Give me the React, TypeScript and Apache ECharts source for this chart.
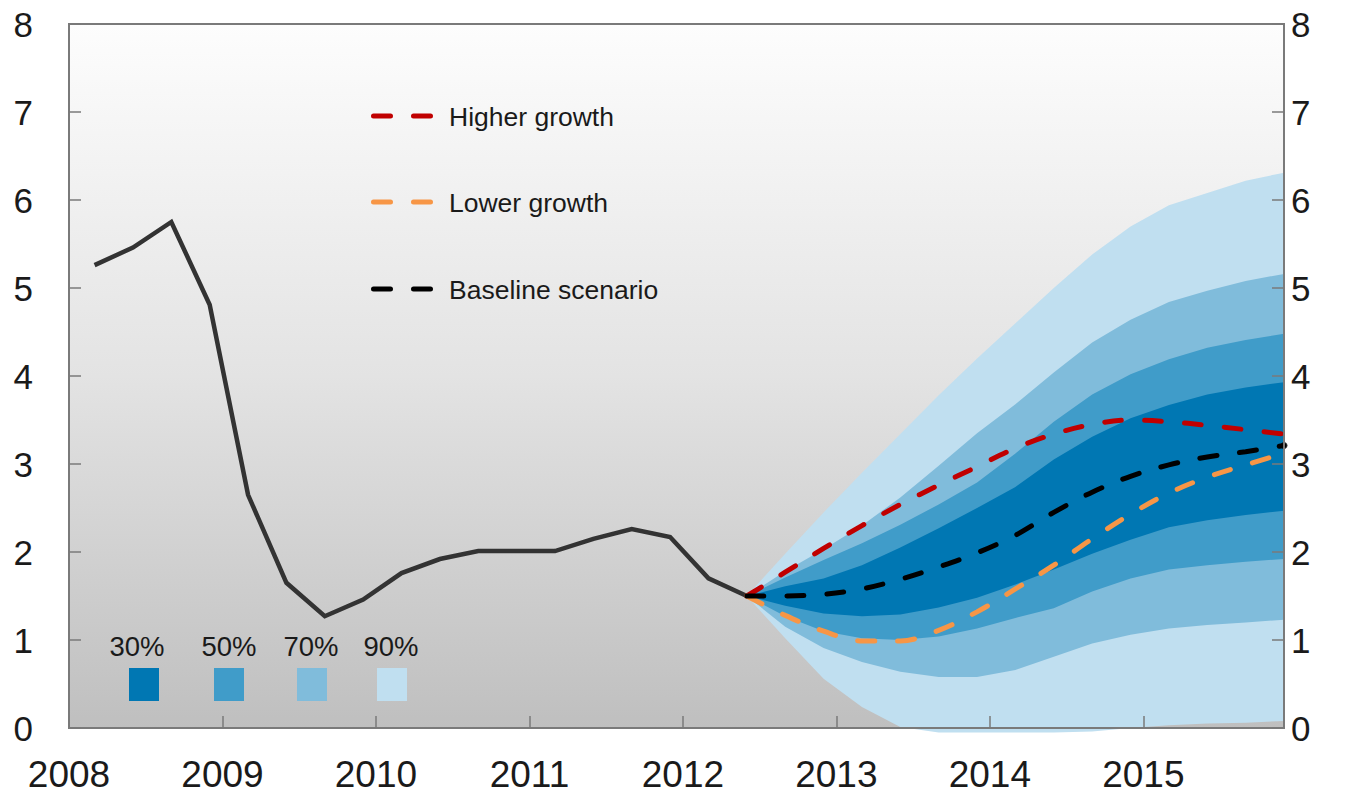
import React, { useEffect, useRef } from 'react';
import * as echarts from 'echarts';

// ---------- data ----------
const historyQuarters = [
  '2008Q1', '2008Q2', '2008Q3', '2008Q4',
  '2009Q1', '2009Q2', '2009Q3', '2009Q4',
  '2010Q1', '2010Q2', '2010Q3', '2010Q4',
  '2011Q1', '2011Q2', '2011Q3', '2011Q4',
  '2012Q1', '2012Q2',
];
const historyValues = [5.26, 5.46, 5.75, 4.81, 2.65, 1.65, 1.27, 1.46, 1.76, 1.92, 2.01, 2.01, 2.01, 2.15, 2.26, 2.17, 1.7, 1.5];

const forecastQuarters = [
  '2012Q2', '2012Q3', '2012Q4',
  '2013Q1', '2013Q2', '2013Q3', '2013Q4',
  '2014Q1', '2014Q2', '2014Q3', '2014Q4',
  '2015Q1', '2015Q2', '2015Q3', '2015Q4',
];
const higherGrowth = [1.5, 1.77, 2.04, 2.3, 2.54, 2.76, 2.97, 3.18, 3.34, 3.45, 3.5, 3.48, 3.44, 3.39, 3.34];
const lowerGrowth = [1.5, 1.28, 1.1, 0.99, 0.99, 1.11, 1.32, 1.58, 1.85, 2.15, 2.43, 2.67, 2.85, 2.99, 3.12];
const baseline = [1.5, 1.5, 1.52, 1.58, 1.69, 1.83, 1.99, 2.19, 2.45, 2.68, 2.86, 2.99, 3.08, 3.14, 3.21];

const upper90 = [1.5, 1.98, 2.45, 2.9, 3.34, 3.78, 4.2, 4.6, 5.0, 5.38, 5.7, 5.94, 6.08, 6.22, 6.31];
const upper70 = [1.5, 1.78, 2.03, 2.3, 2.62, 2.98, 3.35, 3.68, 4.04, 4.38, 4.64, 4.84, 4.97, 5.08, 5.16];
const upper50 = [1.5, 1.71, 1.91, 2.1, 2.31, 2.54, 2.79, 3.12, 3.48, 3.79, 4.02, 4.19, 4.32, 4.41, 4.48];
const upper30 = [1.5, 1.61, 1.7, 1.85, 2.05, 2.27, 2.5, 2.74, 3.05, 3.31, 3.52, 3.67, 3.79, 3.87, 3.93];
const lower30 = [1.5, 1.39, 1.3, 1.27, 1.29, 1.37, 1.48, 1.63, 1.8, 1.98, 2.14, 2.28, 2.36, 2.42, 2.47];
const lower50 = [1.5, 1.27, 1.1, 1.02, 1.0, 1.04, 1.13, 1.25, 1.36, 1.55, 1.7, 1.8, 1.85, 1.89, 1.92];
const lower70 = [1.5, 1.15, 0.91, 0.75, 0.64, 0.58, 0.58, 0.66, 0.81, 0.96, 1.06, 1.13, 1.17, 1.2, 1.23];
const lower90 = [1.5, 1.02, 0.56, 0.24, 0.01, -0.05, -0.05, -0.05, -0.05, -0.04, 0.0, 0.03, 0.05, 0.06, 0.08];

const xTickYears = [2008, 2009, 2010, 2011, 2012, 2013, 2014, 2015];
const legendLines = ['Higher growth', 'Lower growth', 'Baseline scenario'];
const bandLabels = ['30%', '50%', '70%', '90%'];

// ---------- styles ----------
const FONT = '"Liberation Sans", Arial, Helvetica, sans-serif';
const TEXT = '#1a1a1a';
const FRAME = '#7a7a7a';
const C_DARK = '#0077b3';
const C_MID = '#409cc9';
const C_LIGHT = '#80bcdb';
const C_LIGHTEST = '#c0dff0';
const C_RED = '#c00000';
const C_ORANGE = '#f79646';
const C_BLACK = '#000000';
const C_HIST = '#333333';

function qToX(q: string): number {
  const [y, qq] = q.split('Q');
  return Number(y) + (3 * Number(qq) - 1) / 12;
}

function pairs(quarters: string[], values: number[]) {
  return values.map((v, i) => [qToX(quarters[i]), v]);
}

export default function App() {
  const ref = useRef<HTMLDivElement>(null);

  useEffect(() => {
    if (!ref.current) return;
    const chart = echarts.init(ref.current, null, { renderer: 'svg' });

    const forecastXs = forecastQuarters.map(qToX);
    // nested bands, widest first
    const fanBands = [
      { lo: lower90, hi: upper90, color: C_LIGHTEST },
      { lo: lower70, hi: upper70, color: C_LIGHT },
      { lo: lower50, hi: upper50, color: C_MID },
      { lo: lower30, hi: upper30, color: C_DARK },
    ];

    const dashLine = (color: string) => ({
      color,
      width: 5,
      type: [17, 23],
      cap: 'round',
    });

    const xMin = xTickYears[0];
    const xMax = forecastXs[forecastXs.length - 1];

    const yAxisBase = {
      type: 'value',
      min: 0,
      max: 8,
      interval: 1,
      z: 5,
      splitLine: { show: false },
      axisLine: { show: true, lineStyle: { color: FRAME, width: 2 } },
      axisTick: { show: true, inside: true, length: 12, lineStyle: { color: FRAME, width: 1.5 } },
    };

    const legendY = [116, 202, 289];
    const legendColors = [C_RED, C_ORANGE, C_BLACK];
    const graphics: any[] = [];
    legendLines.forEach((t, i) => {
      graphics.push({
        type: 'line',
        z: 20,
        shape: { x1: 373.5, y1: legendY[i], x2: 430.5, y2: legendY[i] },
        style: { stroke: legendColors[i], lineWidth: 5, lineDash: [17, 23], lineCap: 'round' },
      });
      graphics.push({
        type: 'text',
        z: 20,
        x: 449,
        y: legendY[i] + 1,
        style: {
          text: t,
          fill: TEXT,
          fontSize: 26.5,
          fontFamily: FONT,
          textAlign: 'left',
          textVerticalAlign: 'middle',
        },
      });
    });
    const squareX = [129, 214, 297, 377];
    const labelX = [137, 229, 311, 391];
    const squareColors = [C_DARK, C_MID, C_LIGHT, C_LIGHTEST];
    bandLabels.forEach((t, i) => {
      graphics.push({
        type: 'rect',
        z: 20,
        shape: { x: squareX[i], y: 668, width: 30, height: 33 },
        style: { fill: squareColors[i] },
      });
      graphics.push({
        type: 'text',
        z: 20,
        x: labelX[i],
        y: 646,
        style: {
          text: t,
          fill: TEXT,
          fontSize: 27.5,
          fontFamily: FONT,
          textAlign: 'center',
          textVerticalAlign: 'middle',
        },
      });
    });

    chart.setOption({
      animation: false,
      backgroundColor: '#ffffff',
      textStyle: { fontFamily: FONT },
      grid: {
        left: 69,
        right: 66,
        top: 24,
        bottom: 69,
        show: true,
        borderColor: FRAME,
        borderWidth: 2,
        backgroundColor: {
          type: 'linear',
          x: 0,
          y: 0,
          x2: 0,
          y2: 1,
          colorStops: [
            { offset: 0, color: '#fdfdfd' },
            { offset: 0.5, color: '#e3e3e3' },
            { offset: 1, color: '#bfbfbf' },
          ],
        },
      },
      xAxis: {
        type: 'value',
        min: xMin,
        max: xMax,
        interval: 1,
        z: 5,
        splitLine: { show: false },
        axisLine: { show: true, onZero: false, lineStyle: { color: FRAME, width: 2 } },
        axisTick: { show: true, inside: true, length: 12, lineStyle: { color: FRAME, width: 1.5 } },
        axisLabel: {
          color: TEXT,
          fontSize: 37,
          fontFamily: FONT,
          margin: 28,
          showMaxLabel: false,
          formatter: (v: number) =>
            xTickYears.indexOf(Math.round(v)) >= 0 && Math.abs(v - Math.round(v)) < 1e-6
              ? String(Math.round(v))
              : '',
        },
      },
      yAxis: [
        {
          ...yAxisBase,
          position: 'left',
          axisLabel: { color: TEXT, fontSize: 35, fontFamily: FONT, margin: 36 },
        },
        {
          ...yAxisBase,
          position: 'right',
          axisLabel: { color: TEXT, fontSize: 35, fontFamily: FONT, margin: 7 },
        },
      ],
      series: [
        {
          type: 'custom',
          coordinateSystem: 'cartesian2d',
          data: fanBands.map((_, k) => [forecastXs[0], k]),
          clip: false,
          silent: true,
          z: 1,
          renderItem: (params: any, api: any) => {
            const band = fanBands[params.dataIndex];
            const top = forecastXs.map((x, i) => api.coord([x, band.hi[i]]));
            const bot = forecastXs.map((x, i) => api.coord([x, band.lo[i]])).reverse();
            return {
              type: 'polygon',
              shape: { points: top.concat(bot) },
              style: { fill: band.color, stroke: null },
            };
          },
        },
        {
          type: 'line',
          data: pairs(historyQuarters, historyValues),
          symbol: 'none',
          lineStyle: { color: C_HIST, width: 4.5, join: 'miter' },
          z: 3,
        },
        {
          type: 'line',
          data: pairs(forecastQuarters, higherGrowth),
          symbol: 'none',
          smooth: 0.35,
          lineStyle: dashLine(C_RED),
          z: 4,
        },
        {
          type: 'line',
          data: pairs(forecastQuarters, lowerGrowth),
          symbol: 'none',
          smooth: 0.35,
          lineStyle: dashLine(C_ORANGE),
          z: 4,
        },
        {
          type: 'line',
          data: pairs(forecastQuarters, baseline),
          symbol: 'none',
          smooth: 0.35,
          lineStyle: dashLine(C_BLACK),
          z: 4,
        },
        {
          type: 'scatter',
          data: [pairs(forecastQuarters, baseline)[baseline.length - 1]],
          symbol: 'circle',
          symbolSize: 7,
          itemStyle: { color: C_BLACK },
          clip: false,
          z: 4,
        },
      ],
      graphic: graphics,
    });

    return () => {
      chart.dispose();
    };
  }, []);

  return (
    <div
      ref={ref}
      style={{ position: 'absolute', left: 0, top: 0, width: 1350, height: 797 }}
    />
  );
}
